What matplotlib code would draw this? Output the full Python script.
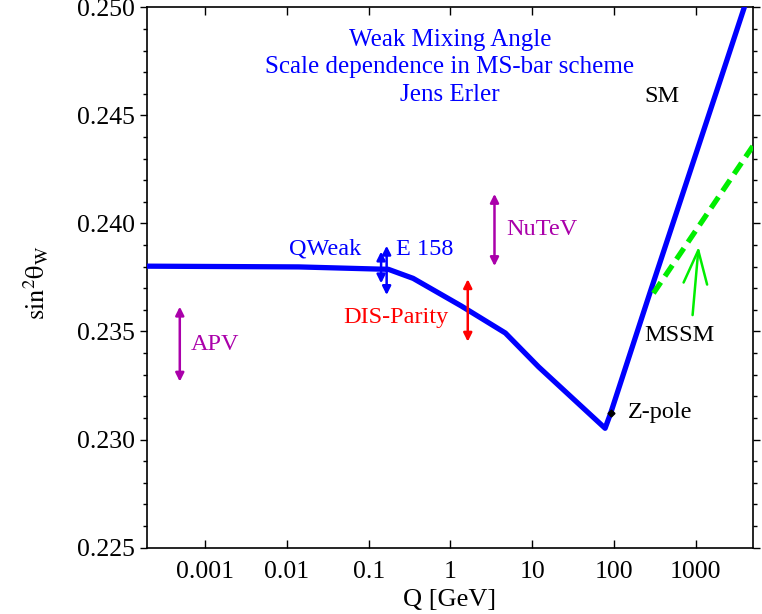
import matplotlib
matplotlib.use("Agg")
import matplotlib.pyplot as plt
from matplotlib.ticker import FixedLocator, MultipleLocator, NullLocator

plt.rcParams.update({"font.family": "Liberation Serif",
                     "mathtext.fontset": "stix"})

# SM running of sin^2 theta_W (MS-bar)
q_sm = [1.0e-4, 0.014, 0.13, 0.174, 0.35, 1.36, 4.7, 12.0, 78.0, 91.19, 275.0, 2000.0, 5000.0]
sw_sm = [0.23803, 0.23799, 0.23789, 0.23788, 0.23746, 0.23618, 0.23493, 0.23336,
         0.23052, 0.23122, 0.23678, 0.24664, 0.25121]

# MSSM branch
q_mssm = [304.0, 5000.0]
sw_mssm = [0.23677, 0.24358]

# Z-pole point
q_z = 91.19
sw_z = 0.23122

# experiments (vertical ranges)
exp_names = ["APV", "QWeak", "E 158", "DIS-Parity", "NuTeV"]
exp_q = [4.9e-4, 0.142, 0.166, 1.63, 3.46]
exp_lo = [0.23268, 0.23723, 0.23669, 0.23453, 0.23803]
exp_hi = [0.23615, 0.23870, 0.23897, 0.23742, 0.24137]
exp_col = ["#aa00aa", "#0000ff", "#0000ff", "#ff0000", "#aa00aa"]

xticks = [1e-3, 1e-2, 1e-1, 1, 10, 100, 1000]
xticklabels = ["0.001", "0.01", "0.1", "1", "10", "100", "1000"]

fig = plt.figure(figsize=(7.62, 6.14), dpi=100)
ax = fig.add_axes([0.193, 0.1083, 0.795, 0.8795])

ax.plot(q_sm, sw_sm, color="#0000ff", lw=3.8, solid_joinstyle="round", zorder=3)
ax.plot(q_mssm, sw_mssm, color="#00ee00", lw=3.8, dashes=(2.5, 1.4), zorder=3)
ax.plot([q_z], [sw_z], marker="D", ms=3.5, color="k", zorder=4)

for q, lo, hi, c in zip(exp_q, exp_lo, exp_hi, exp_col):
    ax.annotate("", xy=(q, hi), xytext=(q, lo),
                arrowprops=dict(arrowstyle="<|-|>,head_length=0.5,head_width=0.25",
                                color=c, lw=1.8, mutation_scale=10,
                                shrinkA=0, shrinkB=0), zorder=5)

# MSSM arrow
ax.annotate("", xy=(1085, 0.23893), xytext=(916, 0.23576),
            arrowprops=dict(arrowstyle="->,head_length=2.4,head_width=0.85",
                            color="#00ee00", lw=1.8, mutation_scale=10,
                            shrinkA=0, shrinkB=0))

fs = 17.5
ax.text(0.0814, 0.23880, "QWeak", color="#0000ff", fontsize=fs, ha="right", va="center")
ax.text(0.218, 0.23880, "E 158", color="#0000ff", fontsize=fs, ha="left", va="center")
ax.text(0.95, 0.23565, "DIS-Parity", color="#ff0000", fontsize=fs, ha="right", va="center")
ax.text(6.6e-4, 0.23440, "APV", color="#aa00aa", fontsize=fs, ha="left", va="center")
ax.text(4.8, 0.23972, "NuTeV", color="#aa00aa", fontsize=fs, ha="left", va="center")
ax.text(237, 0.24586, "SM", color="k", fontsize=fs, ha="left", va="center")
ax.text(237, 0.23482, "MSSM", color="k", fontsize=fs, ha="left", va="center")
ax.text(147, 0.23125, "Z-pole", color="k", fontsize=fs, ha="left", va="center")

ax.text(0.5, 0.940, "Weak Mixing Angle", color="#0000ff", fontsize=18,
        ha="center", va="center", transform=ax.transAxes)
ax.text(0.5, 0.890, "Scale dependence in MS-bar scheme", color="#0000ff", fontsize=18,
        ha="center", va="center", transform=ax.transAxes)
ax.text(0.5, 0.838, "Jens Erler", color="#0000ff", fontsize=18,
        ha="center", va="center", transform=ax.transAxes)

ax.set_xscale("log")
ax.set_xlim(1.95e-4, 5.0e3)
ax.set_ylim(0.225, 0.250)

ax.xaxis.set_major_locator(FixedLocator(xticks))
ax.xaxis.set_minor_locator(NullLocator())
ax.set_xticklabels(xticklabels)
ax.yaxis.set_major_locator(MultipleLocator(0.005))
ax.yaxis.set_minor_locator(MultipleLocator(0.001))
ax.yaxis.set_major_formatter(plt.FormatStrFormatter("%.3f"))

ax.tick_params(axis="x", which="both", direction="in", top=True, bottom=True,
               length=6, width=1, labelsize=18.5, pad=10)
ax.tick_params(axis="y", which="major", direction="out", left=True, right=True,
               length=5, width=1, labelsize=18.5, pad=4)
ax.tick_params(axis="y", which="minor", direction="out", left=True, right=True,
               length=3, width=1)
for s in ax.spines.values():
    s.set_linewidth(1.2)

ax.set_xlabel("Q [GeV]", fontsize=19, labelpad=4)
ax.set_ylabel(r"$\mathrm{sin}^2\mathrm{\theta}_\mathrm{W}$", fontsize=19)
ax.yaxis.set_label_coords(-0.158, 0.49)

fig.savefig("out.png", dpi=100)
